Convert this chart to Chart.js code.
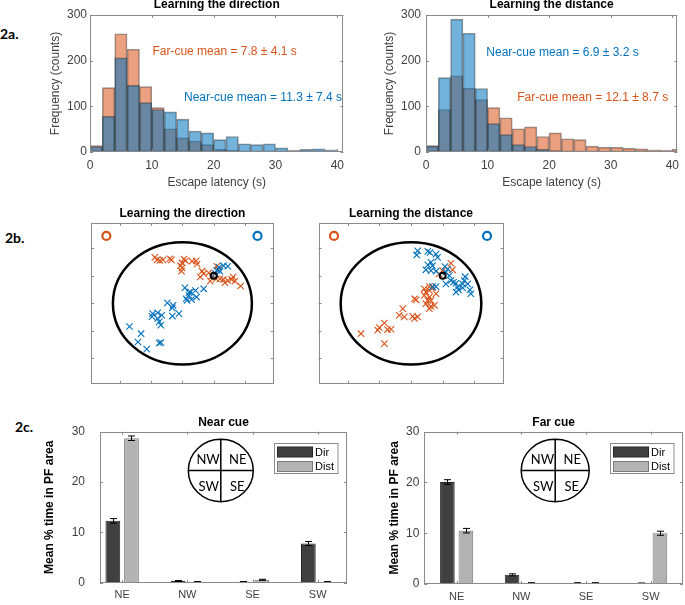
<!DOCTYPE html>
<html>
<head>
<meta charset="utf-8">
<script src="https://cdn.jsdelivr.net/npm/chart.js@4.4.0/dist/chart.umd.min.js"></script>
<style>
  body { margin: 0; background: #fff; }
  #page { position: relative; width: 685px; height: 605px; overflow: hidden; }
  canvas { position: absolute; }
  .tag { position: absolute; font: bold 14px/14px Lato, sans-serif; color: #000; }
</style>
</head>
<body>
<div id="page">
  <div class="tag" style="left:0;top:27px">2a.</div>
  <div class="tag" style="left:5px;top:231px">2b.</div>
  <div class="tag" style="left:15px;top:420px">2c.</div>
  <canvas id="histDir" width="350" height="200" style="left:0;top:0"></canvas>
  <canvas id="histDist" width="345" height="200" style="left:340px;top:0"></canvas>
  <canvas id="mapDir" width="240" height="190" style="left:40px;top:200px"></canvas>
  <canvas id="mapDist" width="220" height="190" style="left:290px;top:200px"></canvas>
  <canvas id="barNear" width="350" height="205" style="left:0;top:400px"></canvas>
  <canvas id="barFar" width="335" height="205" style="left:350px;top:400px"></canvas>
</div>
<script>
// ---- 2a: escape latency histograms (bin centres, 2 s bins) ----
const binCenters = [1, 3, 5, 7, 9, 11, 13, 15, 17, 19, 21, 23, 25, 27, 29, 31, 33, 35, 37, 39, 41];
const dirNear  = [12, 78, 206, 146, 108, 93, 88, 72, 46, 42, 27, 34, 18, 16, 18, 9, 4, 6, 7, 5, 0];
const dirFar   = [14, 141, 259, 225, 143, 97, 51, 31, 24, 16, 6, 4, 1, 0, 1, 0, 0, 0, 0, 0, 0];
const distNear = [13, 163, 291, 260, 139, 62, 38, 16, 12, 6, 3, 1, 1, 0, 0, 0, 0, 0, 0, 0, 0];
const distFar  = [14, 93, 167, 140, 115, 97, 75, 51, 55, 34, 42, 29, 27, 13, 10, 10, 8, 7, 5, 4, 6];
const histXTicks = [0, 10, 20, 30, 40];
const histYTicks = [0, 100, 200, 300];

// ---- 2b: end positions (x, y) ----
const dirFarPts = [[-0.88,1.67],[-0.81,1.58],[-0.72,1.56],[-0.62,1.58],[-0.40,1.62],[-0.35,1.58],[0.05,1.61],[0.10,1.55],
  [-0.01,1.47],[-0.06,1.37],[-0.01,1.29],[-0.03,1.17],[0.31,1.53],[0.44,1.55],[0.47,1.43],[0.63,1.17],[0.68,1.08],
  [0.57,0.96],[0.84,1.11],[0.94,0.99],[0.89,0.81],[1.10,1.35],[1.15,1.23],[1.20,0.89],[1.31,0.87],[1.36,0.75],
  [1.45,0.83],[1.57,0.87],[1.62,0.96],[1.68,0.81],[1.86,0.63],[1.08,0.89]];
const dirNearPts = [[1.10,1.20],[1.17,1.31],[1.31,1.37],[1.45,1.35],[1.20,1.17],[1.05,1.08],[0.08,0.57],[0.68,0.53],
  [0.42,0.47],[0.26,0.41],[0.21,0.29],[0.12,0.17],[0.15,0.11],[0.29,0.14],[0.45,0.23],[0.21,0.39],[-0.48,0.02],
  [-0.30,-0.07],[-0.32,-0.16],[-0.11,-0.37],[-0.32,-0.46],[-0.66,-0.43],[-0.95,-0.37],[-0.97,-0.48],[-0.79,-0.34],
  [-0.74,-0.67],[-0.69,-0.79],[-0.79,-0.55],[-1.69,-0.84],[-1.32,-1.10],[-1.42,-1.40],[-1.14,-1.66],[-0.74,-1.44],[-0.69,-1.42]];
const distNearPts = [[0.21,1.91],[0.18,1.76],[0.53,1.89],[0.60,1.85],[0.79,1.79],[0.84,1.67],[0.63,1.49],[0.53,1.40],
  [0.68,1.37],[0.47,1.22],[0.63,1.19],[0.79,1.17],[1.07,1.34],[1.16,1.25],[1.10,1.13],[1.21,1.01],[1.26,0.83],
  [1.10,0.71],[1.34,0.77],[1.42,0.73],[1.47,0.59],[1.42,0.41],[1.50,0.49],[1.63,0.71],[1.68,0.83],[1.71,0.97],
  [1.79,0.71],[1.86,0.49],[1.89,0.35],[1.63,0.57],[0.68,0.61],[0.79,0.61]];
const distFarPts = [[1.26,1.46],[1.31,1.22],[1.00,1.19],[0.89,1.07],[0.68,0.57],[0.58,0.47],[0.47,0.41],[0.42,0.29],
  [0.58,0.23],[0.63,0.11],[0.53,0.11],[0.79,0.35],[0.47,-0.01],[0.63,-0.11],[0.74,-0.07],[0.58,-0.19],[0.16,0.13],
  [0.11,0.17],[0.21,-0.49],[0.11,-0.55],[0.05,-0.47],[-0.26,-0.19],[-0.37,-0.43],[-0.21,-0.49],[-0.84,-0.71],
  [-1.00,-0.88],[-1.05,-0.97],[-0.74,-0.95],[-0.63,-0.94],[-1.58,-1.10],[-0.84,-1.46],[0.58,0.61],[0.42,0.53]];
const farCuePos = [[-2.43, 2.45]];
const nearCuePos = [[2.40, 2.45]];
const platformPos = [[1, 1]];
const poolRadius = 2.22;
const mapTicks = [-2, -1, 0, 1, 2];

// ---- 2c: mean % time in PF area ----
const quadrants = ['NE', 'NW', 'SE', 'SW'];
const nearDir = [12.3, 0.35, 0.2, 7.8];
const nearDirErr = [0.45, 0.1, 0.05, 0.4];
const nearDist = [28.7, 0.2, 0.6, 0.2];
const nearDistErr = [0.45, 0.05, 0.1, 0.05];
const farDir = [20.1, 1.8, 0.2, 0.15];
const farDirErr = [0.45, 0.2, 0.05, 0.05];
const farDist = [10.5, 0.2, 0.2, 10.0];
const farDistErr = [0.45, 0.05, 0.05, 0.4];
const barYTicks = [0, 10, 20, 30];

const ORANGE = '#D95319';
const BLUE = '#0072BD';
const FONT = '"Liberation Sans", Arial, sans-serif';

Chart.defaults.font.family = FONT;
Chart.defaults.font.size = 12;
Chart.defaults.color = '#404040';
Chart.defaults.animation = false;

// matlab-like box with inward ticks on all four sides, plus the title
const boxPlugin = {
  id: 'box',
  afterDraw(chart, args, opts) {
    const {ctx, chartArea: a, scales} = chart;
    const tl = 3;
    ctx.save();
    ctx.strokeStyle = '#8a8a8a';
    ctx.lineWidth = 1;
    ctx.strokeRect(Math.round(a.left) + 0.5, Math.round(a.top) + 0.5,
      Math.round(a.right) - Math.round(a.left) - 1, Math.round(a.bottom) - Math.round(a.top) - 1);
    ctx.beginPath();
    scales.x.ticks.forEach(t => {
      if (t.value < scales.x.min || t.value > scales.x.max) return;
      const p = Math.round(scales.x.getPixelForValue(t.value)) + 0.5;
      ctx.moveTo(p, a.bottom); ctx.lineTo(p, a.bottom - tl);
      ctx.moveTo(p, a.top); ctx.lineTo(p, a.top + tl);
    });
    scales.y.ticks.forEach(t => {
      if (t.value < scales.y.min || t.value > scales.y.max) return;
      const p = Math.round(scales.y.getPixelForValue(t.value)) + 0.5;
      ctx.moveTo(a.left, p); ctx.lineTo(a.left + tl, p);
      ctx.moveTo(a.right, p); ctx.lineTo(a.right - tl, p);
    });
    ctx.stroke();
    if (opts.title) {
      ctx.fillStyle = '#000';
      ctx.font = 'bold 12px ' + FONT;
      ctx.textAlign = 'center';
      ctx.textBaseline = 'middle';
      ctx.fillText(opts.title, (a.left + a.right) / 2, a.top - opts.gap);
    }
    ctx.restore();
  }
};

// text notes placed in data coordinates
const notesPlugin = {
  id: 'notes',
  afterDraw(chart, args, opts) {
    const {ctx, scales: {x, y}} = chart;
    ctx.save();
    ctx.font = '12px ' + FONT;
    ctx.textAlign = 'left';
    ctx.textBaseline = 'middle';
    (opts.items || []).forEach(n => {
      ctx.fillStyle = n.color;
      ctx.fillText(n.text, x.getPixelForValue(n.x), y.getPixelForValue(n.y));
    });
    ctx.restore();
  }
};

// pool outline
const poolPlugin = {
  id: 'pool',
  beforeDatasetsDraw(chart, args, opts) {
    const {ctx, scales: {x, y}} = chart;
    const cx = x.getPixelForValue(0), cy = y.getPixelForValue(0);
    ctx.save();
    ctx.strokeStyle = '#000';
    ctx.lineWidth = 2.5;
    ctx.beginPath();
    ctx.ellipse(cx, cy, x.getPixelForValue(opts.r) - cx, cy - y.getPixelForValue(opts.r), 0, 0, Math.PI * 2);
    ctx.stroke();
    ctx.restore();
  }
};

// error bars from dataset.errors
const errorPlugin = {
  id: 'errors',
  afterDatasetsDraw(chart) {
    const {ctx, scales: {y}} = chart;
    ctx.save();
    ctx.strokeStyle = '#000';
    ctx.lineWidth = 1;
    chart.data.datasets.forEach((ds, i) => {
      chart.getDatasetMeta(i).data.forEach((bar, j) => {
        const v = ds.data[j].y, e = ds.errors[j];
        const x = Math.round(bar.x) + 0.5;
        const y1 = y.getPixelForValue(v + e), y2 = y.getPixelForValue(v - e);
        ctx.beginPath();
        ctx.moveTo(x, y1); ctx.lineTo(x, y2);
        ctx.moveTo(x - 3.5, y1); ctx.lineTo(x + 3.5, y1);
        ctx.moveTo(x - 3.5, y2); ctx.lineTo(x + 3.5, y2);
        ctx.stroke();
      });
    });
    ctx.restore();
  }
};

// quadrant sketch and boxed legend
const insetPlugin = {
  id: 'inset',
  afterDraw(chart, args, opts) {
    const {ctx, chartArea: a} = chart;
    const cx = a.left + opts.cx, cy = a.top + 38.8;
    ctx.save();
    ctx.strokeStyle = '#000';
    ctx.lineWidth = 1.5;
    ctx.beginPath();
    ctx.ellipse(cx, cy, opts.rx, 31.2, 0, 0, Math.PI * 2);
    ctx.moveTo(cx - opts.rx, cy); ctx.lineTo(cx + opts.rx, cy);
    ctx.moveTo(cx, cy - 31.2); ctx.lineTo(cx, cy + 31.2);
    ctx.stroke();
    ctx.fillStyle = '#000';
    ctx.font = '13px Lato, sans-serif';
    ctx.textAlign = 'center';
    ctx.textBaseline = 'middle';
    ctx.fillText('NW', cx - 12.7, cy - 10.5);
    ctx.fillText('NE', cx + 17, cy - 10.5);
    ctx.fillText('SW', cx - 12, cy + 16.6);
    ctx.fillText('SE', cx + 16.5, cy + 16.6);
    // legend
    const lw = 63.5, lh = 30;
    const lx = Math.round(a.right - 10 - lw) + 0.5, ly = Math.round(a.top + 11.6) + 0.5;
    ctx.fillStyle = '#fff';
    ctx.fillRect(lx, ly, lw, lh);
    ctx.strokeStyle = '#8a8a8a';
    ctx.lineWidth = 1;
    ctx.strokeRect(lx, ly, lw, lh);
    ctx.font = '11px ' + FONT;
    ctx.textAlign = 'left';
    chart.data.datasets.forEach((ds, i) => {
      const sy = ly + 3.5 + i * 14.5;
      ctx.fillStyle = ds.backgroundColor;
      ctx.fillRect(lx + 3, sy, 35, 10);
      ctx.strokeStyle = ds.borderColor;
      ctx.strokeRect(lx + 3, sy, 35, 10);
      ctx.fillStyle = '#000';
      ctx.fillText(ds.label, lx + 40.5, sy + 5.5);
    });
    ctx.restore();
  }
};

const setTicks = vals => s => { s.ticks = vals.map(v => ({value: v})); };

function histChart(id, title, near, far, xMax, yWidth, yTitlePad, yTickPad, notes, rightPad) {
  const bar = (data, color) => ({
    data: binCenters.map((x, i) => ({x, y: data[i]})),
    backgroundColor: color,
    borderColor: 'rgba(40,40,40,0.5)',
    borderWidth: 1,
    borderSkipped: false,
    grouped: false,
    barPercentage: 1,
    categoryPercentage: 1
  });
  return new Chart(document.getElementById(id), {
    type: 'bar',
    data: {
      datasets: [
        {label: 'Near cue', ...bar(near, 'rgba(0,114,189,0.55)')},
        {label: 'Far cue', ...bar(far, 'rgba(217,83,25,0.55)')}
      ]
    },
    options: {
      responsive: false,
      layout: {padding: {left: 0, top: 15, right: rightPad, bottom: 0}},
      scales: {
        x: {
          type: 'linear', min: 0, max: xMax, offset: false,
          afterBuildTicks: setTicks(histXTicks),
          afterFit: s => { s.height = 48; },
          grid: {display: false, drawTicks: false},
          border: {display: false},
          ticks: {padding: 6, font: {size: 12}},
          title: {display: true, text: 'Escape latency (s)', font: {size: 12}, padding: {top: 0, bottom: 10}}
        },
        y: {
          min: 0, max: 300,
          afterBuildTicks: setTicks(histYTicks),
          afterFit: s => { s.width = yWidth; },
          grid: {display: false, drawTicks: false},
          border: {display: false},
          ticks: {padding: yTickPad, font: {size: 12}},
          title: {display: true, text: 'Frequency (counts)', font: {size: 12}, padding: {top: yTitlePad, bottom: 0}}
        }
      },
      plugins: {
        legend: {display: false},
        tooltip: {enabled: false},
        box: {title, gap: 10},
        notes: {items: notes}
      }
    },
    plugins: [boxPlugin, notesPlugin]
  });
}

histChart('histDir', 'Learning the direction', dirNear, dirFar, 41, 90, 48.8, 3, [
  {text: 'Far-cue mean = 7.8 \u00b1 4.1 s', x: 10.1, y: 219, color: ORANGE},
  {text: 'Near-cue mean = 11.3 \u00b1 7.4 s', x: 15.2, y: 118, color: BLUE}
], 1);
histChart('histDist', 'Learning the distance', distNear, distFar, 40.8, 86, 42.8, 5, [
  {text: 'Near-cue mean = 6.9 \u00b1 3.2 s', x: 9.8, y: 218, color: BLUE},
  {text: 'Far-cue mean = 12.1 \u00b1 8.7 s', x: 14.8, y: 119, color: ORANGE}
], 0);

function mapChart(id, title, nearPts, farPts, pad) {
  const pts = arr => arr.map(([x, y]) => ({x, y}));
  const cross = (data, color) => ({
    data: pts(data), pointStyle: 'crossRot', pointRadius: 4.5, borderColor: color, borderWidth: 1.1
  });
  const ring = (data, color, r, w) => ({
    data: pts(data), pointStyle: 'circle', pointRadius: r, borderColor: color,
    backgroundColor: 'rgba(255,255,255,0)', borderWidth: w
  });
  const axis = (w) => ({
    min: -2.92, max: 2.92,
    afterBuildTicks: setTicks(mapTicks),
    afterFit: s => { if (w) s.width = 0; else s.height = 0; },
    grid: {display: false, drawTicks: false},
    border: {display: false},
    ticks: {display: false}
  });
  return new Chart(document.getElementById(id), {
    type: 'scatter',
    data: {
      datasets: [
        ring(platformPos, '#000', 3, 2),
        ring(farCuePos, ORANGE, 4, 2.2),
        ring(nearCuePos, BLUE, 4, 2.2),
        cross(nearPts, BLUE),
        cross(farPts, ORANGE)
      ]
    },
    options: {
      responsive: false,
      layout: {padding: pad},
      scales: {x: axis(false), y: axis(true)},
      plugins: {
        legend: {display: false},
        tooltip: {enabled: false},
        box: {title, gap: 9},
        pool: {r: poolRadius}
      }
    },
    plugins: [poolPlugin, boxPlugin]
  });
}

mapChart('mapDir', 'Learning the direction', dirNearPts, dirFarPts, {left: 51, right: 4, top: 23, bottom: 6});
mapChart('mapDist', 'Learning the distance', distNearPts, distFarPts, {left: 28.5, right: 6.5, top: 23, bottom: 6});

function barChart(id, title, dir, dirErr, dist, distErr, xMin, xMax, yWidth, rightPad, yTitlePad, yTickPad, insetCx, insetRx) {
  const set = (label, data, errs, fill, edge) => ({
    label, errors: errs,
    data: quadrants.map((q, i) => ({x: i + 1, y: data[i]})),
    backgroundColor: fill, borderColor: edge, borderWidth: 1,
    categoryPercentage: 0.572, barPercentage: 0.79
  });
  return new Chart(document.getElementById(id), {
    type: 'bar',
    data: {
      datasets: [
        set('Dir', dir, dirErr, '#404040', '#262626'),
        set('Dist', dist, distErr, '#b3b3b3', '#7a7a7a')
      ]
    },
    options: {
      responsive: false,
      layout: {padding: {left: 0, top: 31.7, right: rightPad, bottom: 0}},
      scales: {
        x: {
          type: 'linear', min: xMin, max: xMax, offset: false,
          afterBuildTicks: setTicks([1, 2, 3, 4]),
          afterFit: s => { s.height = 21; },
          grid: {display: false, drawTicks: false},
          border: {display: false},
          ticks: {padding: 6, font: {size: 11}, callback: v => quadrants[v - 1] || ''}
        },
        y: {
          min: 0, max: 30,
          afterBuildTicks: setTicks(barYTicks),
          afterFit: s => { s.width = yWidth; },
          grid: {display: false, drawTicks: false},
          border: {display: false},
          ticks: {padding: yTickPad, font: {size: 12}},
          title: {display: true, text: 'Mean % time in PF area', color: '#000',
            font: {size: 12, weight: 'bold'}, padding: {top: yTitlePad, bottom: 0}}
        }
      },
      plugins: {
        legend: {display: false},
        tooltip: {enabled: false},
        box: {title, gap: 9},
        inset: {cx: insetCx, rx: insetRx}
      }
    },
    plugins: [boxPlugin, errorPlugin, insetPlugin]
  });
}

barChart('barNear', 'Near cue', nearDir, nearDirErr, nearDist, nearDistErr, 0.66, 4.45, 100, 3, 42.8, 15, 120.8, 32.5);
barChart('barFar', 'Far cue', farDir, farDirErr, farDist, farDistErr, 0.5, 4.5, 74.3, 2, 37.8, 5, 130.9, 34);
</script>
</body>
</html>
